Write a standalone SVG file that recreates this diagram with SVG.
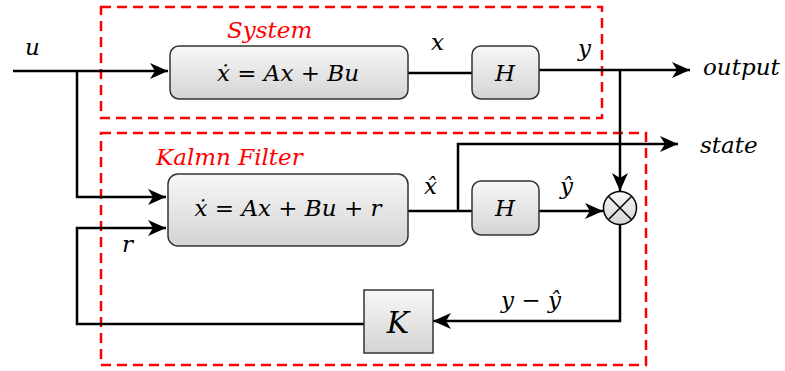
<svg xmlns="http://www.w3.org/2000/svg" width="785" height="371" viewBox="0 0 785 371">
<defs>
<linearGradient id="g" x1="0" y1="0" x2="0" y2="1">
<stop offset="0" stop-color="#f7f7f7"/>
<stop offset="1" stop-color="#d4d4d4"/>
</linearGradient>
<marker id="arr" markerUnits="userSpaceOnUse" markerWidth="20" markerHeight="20" viewBox="0 0 20 16" refX="18" refY="8" orient="auto">
<path d="M0,0 L18,8 L0,16 L5,8 z" fill="#000"/>
</marker>
</defs>
<style>
.blk{fill:url(#g);stroke:#333;stroke-width:1.5}
.ln{fill:none;stroke:#000;stroke-width:2.5}
.dash{fill:none;stroke:#ff0000;stroke-width:2.5;stroke-dasharray:10,6}
.m{font-family:'DejaVu Serif',serif;font-style:italic;font-size:23px;fill:#000}
.eq{font-family:'DejaVu Serif',serif;font-style:italic;font-size:23px;fill:#000;text-anchor:middle}
.red{font-family:'DejaVu Serif',serif;font-style:italic;font-size:23px;fill:#ff0000}
</style>
<g id="regions">
<rect class="dash" x="101" y="7" width="501" height="111"/>
<rect class="dash" x="101" y="133" width="545" height="232"/>
<text class="red" x="227" y="38">System</text>
<text class="red" x="156" y="165">Kalmn Filter</text>
</g>
<g id="connectors">
<path class="ln" d="M13,71 H168" marker-end="url(#arr)"/>
<path class="ln" d="M77,71 V197 H166" marker-end="url(#arr)"/>
<path class="ln" d="M408,73 H472"/>
<path class="ln" d="M539,70 H690" marker-end="url(#arr)"/>
<path class="ln" d="M620,70 V191" marker-end="url(#arr)"/>
<path class="ln" d="M408,211 H472"/>
<path class="ln" d="M458,211 V144 H678" marker-end="url(#arr)"/>
<path class="ln" d="M539,211 H603" marker-end="url(#arr)"/>
<path class="ln" d="M620,225 V321 H433" marker-end="url(#arr)"/>
<path class="ln" d="M364,324 H77 V228 H166" marker-end="url(#arr)"/>
</g>
<g id="sys">
<rect class="blk" x="170" y="46" width="238" height="53" rx="9"/>
<text class="eq" x="288" y="81">ẋ = Ax + Bu</text>
</g>
<g id="H1">
<rect class="blk" x="472" y="46" width="67" height="53" rx="9"/>
<text class="eq" x="505" y="81">H</text>
</g>
<g id="kf">
<rect class="blk" x="168" y="174" width="240" height="72" rx="10"/>
<text class="eq" x="288" y="216">ẋ = Ax + Bu + r</text>
</g>
<g id="H2">
<rect class="blk" x="472" y="181" width="67" height="54" rx="9"/>
<text class="eq" x="505" y="216">H</text>
</g>
<g id="sum">
<circle cx="620" cy="208" r="16.5" fill="url(#g)" stroke="#000" stroke-width="1.5"/>
<path d="M608.3,196.3 L631.7,219.7 M631.7,196.3 L608.3,219.7" stroke="#000" stroke-width="1.5"/>
</g>
<g id="K">
<rect class="blk" x="364" y="290" width="69" height="63"/>
<text class="eq" x="398" y="333" style="font-size:30px">K</text>
</g>
<g id="labels">
<text class="m" x="25" y="55">u</text>
<text class="m" x="431" y="50">x</text>
<text class="m" x="578" y="56">y</text>
<text class="m" x="703" y="75">output</text>
<text class="m" x="700" y="153">state</text>
<text class="m" x="424" y="194">x̂</text>
<text class="m" x="560" y="194">ŷ</text>
<text class="m" x="122" y="252">r</text>
<text class="m" x="501" y="308">y − ŷ</text>
</g>
</svg>
